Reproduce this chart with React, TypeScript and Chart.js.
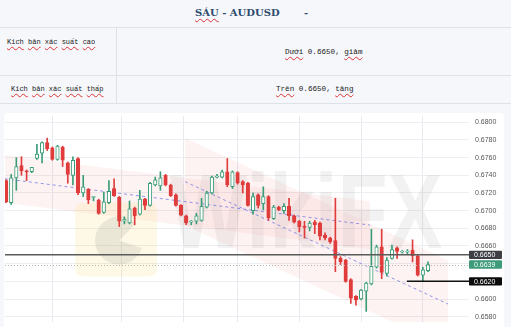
import React, { useEffect, useRef } from "react";
import { Chart, registerables } from "chart.js";

Chart.register(...registerables);

// ---- data ----
const openP = [
  0.6734, 0.6709, 0.6737, 0.6751, 0.6745, 0.6744, 0.6759, 0.6765, 0.6777, 0.6771,
  0.6758, 0.6772, 0.6754, 0.6740, 0.6759, 0.6720, 0.6724, 0.6715, 0.6712, 0.6698,
  0.6709, 0.6725, 0.6715, 0.6688, 0.6686, 0.6703, 0.6696, 0.6713, 0.6706, 0.6729,
  0.6728, 0.6740, 0.6729, 0.6718, 0.6706, 0.6694, 0.6687, 0.6688, 0.6689, 0.6704,
  0.6720, 0.6738, 0.6738, 0.6744, 0.6727, 0.6743, 0.6733, 0.6731, 0.6700, 0.6718,
  0.6708, 0.6716, 0.6691, 0.6704, 0.6700, 0.6705, 0.6694, 0.6688, 0.6682, 0.6681,
  0.6687, 0.6686, 0.6672, 0.6669, 0.6666, 0.6646, 0.6644, 0.6622, 0.6603, 0.6600,
  0.6609, 0.6617, 0.6636, 0.6659, 0.6629, 0.6646, 0.6658, 0.6653, 0.6653, 0.6655,
  0.6649, 0.6627, 0.6632,
];
const highP = [
  0.6735, 0.6741, 0.6760, 0.6761, 0.6746, 0.6749, 0.6775, 0.6778, 0.6782, 0.6772,
  0.6774, 0.6773, 0.6755, 0.6761, 0.6760, 0.6740, 0.6725, 0.6716, 0.6713, 0.6721,
  0.6734, 0.6736, 0.6716, 0.6693, 0.6711, 0.6704, 0.6723, 0.6714, 0.6732, 0.6738,
  0.6744, 0.6741, 0.6730, 0.6719, 0.6707, 0.6695, 0.6689, 0.6697, 0.6714, 0.6722,
  0.6739, 0.6741, 0.6746, 0.6759, 0.6745, 0.6744, 0.6734, 0.6732, 0.6720, 0.6719,
  0.6727, 0.6717, 0.6706, 0.6705, 0.6708, 0.6714, 0.6695, 0.6689, 0.6688, 0.6688,
  0.6689, 0.6687, 0.6675, 0.6670, 0.6714, 0.6648, 0.6645, 0.6623, 0.6604, 0.6611,
  0.6619, 0.6679, 0.6661, 0.6679, 0.6647, 0.6661, 0.6659, 0.6655, 0.6656, 0.6667,
  0.6650, 0.6636, 0.6642,
];
const lowP = [
  0.6709, 0.6707, 0.6723, 0.6740, 0.6734, 0.6743, 0.6758, 0.6754, 0.6768, 0.6757,
  0.6757, 0.6750, 0.6731, 0.6729, 0.6718, 0.6716, 0.6708, 0.6711, 0.6696, 0.6697,
  0.6708, 0.6716, 0.6682, 0.6685, 0.6685, 0.6684, 0.6695, 0.6701, 0.6705, 0.6728,
  0.6723, 0.6728, 0.6716, 0.6705, 0.6694, 0.6684, 0.6684, 0.6685, 0.6688, 0.6703,
  0.6719, 0.6737, 0.6737, 0.6727, 0.6725, 0.6730, 0.6720, 0.6705, 0.6696, 0.6703,
  0.6701, 0.6689, 0.6690, 0.6700, 0.6697, 0.6689, 0.6686, 0.6676, 0.6669, 0.6677,
  0.6674, 0.6667, 0.6667, 0.6663, 0.6631, 0.6639, 0.6619, 0.6595, 0.6593, 0.6599,
  0.6586, 0.6616, 0.6635, 0.6623, 0.6626, 0.6645, 0.6646, 0.6652, 0.6651, 0.6642,
  0.6626, 0.6620, 0.6631,
];
const closeP = [
  0.6710, 0.6737, 0.6750, 0.6745, 0.6744, 0.6749, 0.6764, 0.6777, 0.6770, 0.6758,
  0.6773, 0.6757, 0.6741, 0.6757, 0.6720, 0.6727, 0.6712, 0.6716, 0.6697, 0.6710,
  0.6722, 0.6717, 0.6688, 0.6690, 0.6702, 0.6694, 0.6713, 0.6706, 0.6731, 0.6735,
  0.6737, 0.6729, 0.6717, 0.6706, 0.6695, 0.6686, 0.6688, 0.6694, 0.6705, 0.6720,
  0.6738, 0.6739, 0.6744, 0.6729, 0.6744, 0.6731, 0.6729, 0.6706, 0.6716, 0.6706,
  0.6716, 0.6692, 0.6704, 0.6701, 0.6705, 0.6694, 0.6687, 0.6682, 0.6681, 0.6686,
  0.6684, 0.6671, 0.6669, 0.6665, 0.6646, 0.6642, 0.6620, 0.6601, 0.6599, 0.6610,
  0.6618, 0.6637, 0.6659, 0.6630, 0.6644, 0.6656, 0.6654, 0.6654, 0.6654, 0.6649,
  0.6627, 0.6633, 0.6639,
];
const yTicks = [
  0.658, 0.66, 0.662, 0.664, 0.666, 0.668, 0.67, 0.672, 0.674, 0.676, 0.678, 0.68,
];
const dayBreaks = [3, 15, 30, 39, 51, 63, 75];
const resistanceLevel = 0.665;
const lastPrice = 0.6639;
const supportLevel = 0.662;
const supportStartIndex = 77.9;
// trend channels: [index, value] start and end of mid line, half width in price
const trendA = [
  [-0.2, 0.6736],
  [70.7, 0.66837],
];
const trendAHalf = 0.0027;
const trendB = [
  [34.8, 0.67328],
  [85.9, 0.65943],
];
const trendBHalf = 0.00495;

const RED = "#e03c3c";
const GREEN = "#3a9d78";

const idx = openP.map((_, i) => i);

const overlayPlugin = {
  id: "overlayPlugin",
  beforeDatasetsDraw(chart: any) {
    const { ctx, chartArea: a, scales } = chart;
    const x = scales.x;
    const y = scales.y;
    ctx.save();
    ctx.beginPath();
    ctx.rect(a.left, a.top, a.right - a.left, a.bottom - a.top);
    ctx.clip();

    // channels
    const band = (p: number[][], half: number, color: string) => {
      ctx.beginPath();
      ctx.moveTo(x.getPixelForValue(p[0][0]), y.getPixelForValue(p[0][1] + half));
      ctx.lineTo(x.getPixelForValue(p[1][0]), y.getPixelForValue(p[1][1] + half));
      ctx.lineTo(x.getPixelForValue(p[1][0]), y.getPixelForValue(p[1][1] - half));
      ctx.lineTo(x.getPixelForValue(p[0][0]), y.getPixelForValue(p[0][1] - half));
      ctx.closePath();
      ctx.fillStyle = color;
      ctx.fill();
    };
    band(trendA, trendAHalf, "rgba(240,90,90,0.07)");
    band(trendB, trendBHalf, "rgba(240,90,90,0.07)");

    // watermark logo box
    const w = a.right - a.left;
    const h = a.bottom - a.top;
    const bx = a.left + w * 0.151;
    const by = a.top + h * 0.42;
    ctx.fillStyle = "rgba(250,215,100,0.16)";
    ctx.beginPath();
    (ctx as any).roundRect(bx, by, 82, 74, 8);
    ctx.fill();
    ctx.fillStyle = "rgba(110,110,110,0.13)";
    ctx.beginPath();
    ctx.arc(bx + 44, by + 38, 24, Math.PI * 0.1, Math.PI * 1.75);
    ctx.lineTo(bx + 44, by + 38);
    ctx.closePath();
    ctx.fill();

    // watermark text
    ctx.save();
    ctx.translate(a.left + w * 0.355, a.top + h * 0.64);
    ctx.scale(1, 1.3);
    ctx.font = "bold 82px 'Liberation Sans'";
    ctx.fillStyle = "rgba(110,110,110,0.09)";
    ctx.textBaseline = "alphabetic";
    ctx.fillText("WikiFX", 0, 0);
    ctx.restore();

    // dashed trend lines
    ctx.setLineDash([3, 3]);
    ctx.strokeStyle = "rgba(110,115,230,0.75)";
    ctx.lineWidth = 1;
    for (const p of [trendA, trendB]) {
      ctx.beginPath();
      ctx.moveTo(x.getPixelForValue(p[0][0]), y.getPixelForValue(p[0][1]));
      ctx.lineTo(x.getPixelForValue(p[1][0]), y.getPixelForValue(p[1][1]));
      ctx.stroke();
    }
    ctx.restore();
  },
  afterDatasetsDraw(chart: any) {
    const { ctx, chartArea: a, scales } = chart;
    const x = scales.x;
    const y = scales.y;
    ctx.save();
    // last price dotted
    ctx.setLineDash([1, 2]);
    ctx.strokeStyle = "#b5b5b5";
    ctx.lineWidth = 1;
    let py = Math.round(y.getPixelForValue(lastPrice)) + 0.5;
    ctx.beginPath();
    ctx.moveTo(a.left, py);
    ctx.lineTo(a.right, py);
    ctx.stroke();
    ctx.setLineDash([]);
    // resistance
    ctx.strokeStyle = "#5b5b5b";
    ctx.lineWidth = 1.5;
    py = y.getPixelForValue(resistanceLevel);
    ctx.beginPath();
    ctx.moveTo(a.left, py);
    ctx.lineTo(a.right, py);
    ctx.stroke();
    // support
    ctx.strokeStyle = "#111";
    py = y.getPixelForValue(supportLevel);
    ctx.beginPath();
    ctx.moveTo(x.getPixelForValue(supportStartIndex), py);
    ctx.lineTo(a.right, py);
    ctx.stroke();
    ctx.restore();
  },
  afterDraw(chart: any) {
    const { ctx, chartArea: a, scales } = chart;
    const y = scales.y;
    const boxes = [
      { v: resistanceLevel, bg: "#3d3f44" },
      { v: lastPrice, bg: "#3e9b7a" },
      { v: supportLevel, bg: "#0b0b0b" },
    ];
    ctx.save();
    for (const b of boxes) {
      const cy = y.getPixelForValue(b.v);
      ctx.fillStyle = b.bg;
      ctx.beginPath();
      (ctx as any).roundRect(a.right, cy - 4.2, 33, 8.4, 1);
      ctx.fill();
      ctx.fillStyle = "#ffffff";
      ctx.font = "7px 'Liberation Sans'";
      ctx.textBaseline = "middle";
      ctx.textAlign = "left";
      ctx.fillText(b.v.toFixed(4), a.right + 5, cy + 0.5);
    }
    ctx.restore();
  },
};

function CandleChart() {
  const ref = useRef<HTMLCanvasElement | null>(null);
  useEffect(() => {
    if (!ref.current) return;
    const bodies = idx.map((i) => ({ x: i, y: [openP[i], closeP[i]] }));
    const wicks = idx.map((i) => ({ x: i, y: [lowP[i], highP[i]] }));
    const up = idx.map((i) => closeP[i] >= openP[i]);
    const chart = new Chart(ref.current, {
      type: "bar",
      data: {
        datasets: [
          {
            data: bodies as any,
            order: 1,
            barThickness: 3.5,
            minBarLength: 1,
            grouped: false,
            borderSkipped: false,
            borderWidth: 1,
            backgroundColor: up.map((u) => (u ? "#ffffff" : RED)),
            borderColor: up.map((u) => (u ? GREEN : RED)),
          } as any,
          {
            data: wicks as any,
            order: 2,
            barThickness: 1,
            grouped: false,
            borderWidth: 0,
            backgroundColor: up.map((u) => (u ? GREEN : RED)),
          } as any,
        ],
      },
      options: {
        animation: false,
        responsive: false,
        devicePixelRatio: 1,
        layout: { padding: { left: 1, right: 0, top: 7, bottom: 5 } },
        plugins: { legend: { display: false }, tooltip: { enabled: false } },
        scales: {
          x: {
            type: "linear",
            min: -0.2,
            max: 89.97,
            offset: false,
            ticks: { display: false },
            border: { display: false },
            grid: { color: "#e7eaee", drawTicks: false, lineWidth: 1 },
            afterBuildTicks: (axis: any) => {
              axis.ticks = dayBreaks.map((v) => ({ value: v }));
            },
            afterFit: (axis: any) => {
              axis.height = 0;
              axis.paddingLeft = 0;
              axis.paddingRight = 0;
            },
          },
          y: {
            position: "right",
            min: 0.6574,
            max: 0.68071,
            border: { display: false },
            grid: { color: "#eceef1", drawTicks: false },
            afterBuildTicks: (axis: any) => {
              axis.ticks = yTicks.map((v) => ({ value: v }));
            },
            afterFit: (axis: any) => {
              axis.width = 35;
              axis.paddingTop = 0;
              axis.paddingBottom = 0;
            },
            ticks: {
              padding: 6,
              color: "#555",
              font: { family: "'Liberation Sans'", size: 7 },
              callback: (v: any) => Number(v).toFixed(4),
            },
          },
        },
      } as any,
      plugins: [overlayPlugin],
    });
    return () => chart.destroy();
  }, []);
  return (
    <canvas
      ref={ref}
      width={500}
      height={218}
      style={{ position: "absolute", left: 4, top: 109, width: 500, height: 218 }}
    />
  );
}

const wavy: React.CSSProperties = {
  textDecorationLine: "underline",
  textDecorationStyle: "wavy",
  textDecorationColor: "#d33",
  textDecorationThickness: "1px",
  textUnderlineOffset: "2px",
};

function W({ children }: { children: React.ReactNode }) {
  return <span style={wavy}>{children}</span>;
}

export default function App() {
  useEffect(() => {
    document.body.style.margin = "0";
    document.body.style.background = "#f5f7fb";
  }, []);
  const line = (s: React.CSSProperties) => (
    <div style={{ position: "absolute", background: "#dde2e8", ...s }} />
  );
  const mono: React.CSSProperties = {
    position: "absolute",
    fontFamily: "'Liberation Mono', monospace",
    color: "#222",
    lineHeight: "10px",
    whiteSpace: "pre",
  };
  return (
    <div
      style={{
        position: "relative",
        width: 511,
        height: 327,
        overflow: "hidden",
        background: "#f5f7fb",
        fontFamily: "'DejaVu Serif', serif",
      }}
    >
      <div
        style={{
          position: "absolute",
          left: 195,
          top: 8,
          fontSize: 10,
          lineHeight: "10px",
          fontWeight: "bold",
          color: "#2c4a6e",
          whiteSpace: "pre",
        }}
      >
        <W>SÁU</W> - AUDUSD
      </div>
      <div
        style={{
          position: "absolute",
          left: 304,
          top: 8,
          fontSize: 10,
          lineHeight: "10px",
          fontWeight: "bold",
          color: "#2c4a6e",
        }}
      >
        -
      </div>
      {line({ left: 0, top: 27, width: 511, height: 1 })}
      {line({ left: 0, top: 75, width: 511, height: 1 })}
      {line({ left: 0, top: 103, width: 511, height: 1 })}
      {line({ left: 116, top: 27, width: 1, height: 76 })}
      <div style={{ ...mono, left: 7, top: 37, fontSize: 7 }}>
        <W>Kich</W> <W>bản</W> <W>xác</W> <W>suất</W> <W>cao</W>
      </div>
      <div style={{ ...mono, left: 285, top: 47, fontSize: 7.6 }}>
        <W>Dưới</W> 0.6650, <W>giảm</W>
      </div>
      <div style={{ ...mono, left: 11, top: 84, fontSize: 7 }}>
        <W>Kich</W> <W>bản</W> <W>xác</W> <W>suất</W> <W>thấp</W>
      </div>
      <div style={{ ...mono, left: 276, top: 84, fontSize: 7.6 }}>
        <W>Trên</W> 0.6650, <W>tăng</W>
      </div>
      <div
        style={{
          position: "absolute",
          left: 4,
          top: 113,
          width: 500,
          height: 220,
          background: "#ffffff",
          borderRadius: 4,
        }}
      />
      <CandleChart />
    </div>
  );
}
